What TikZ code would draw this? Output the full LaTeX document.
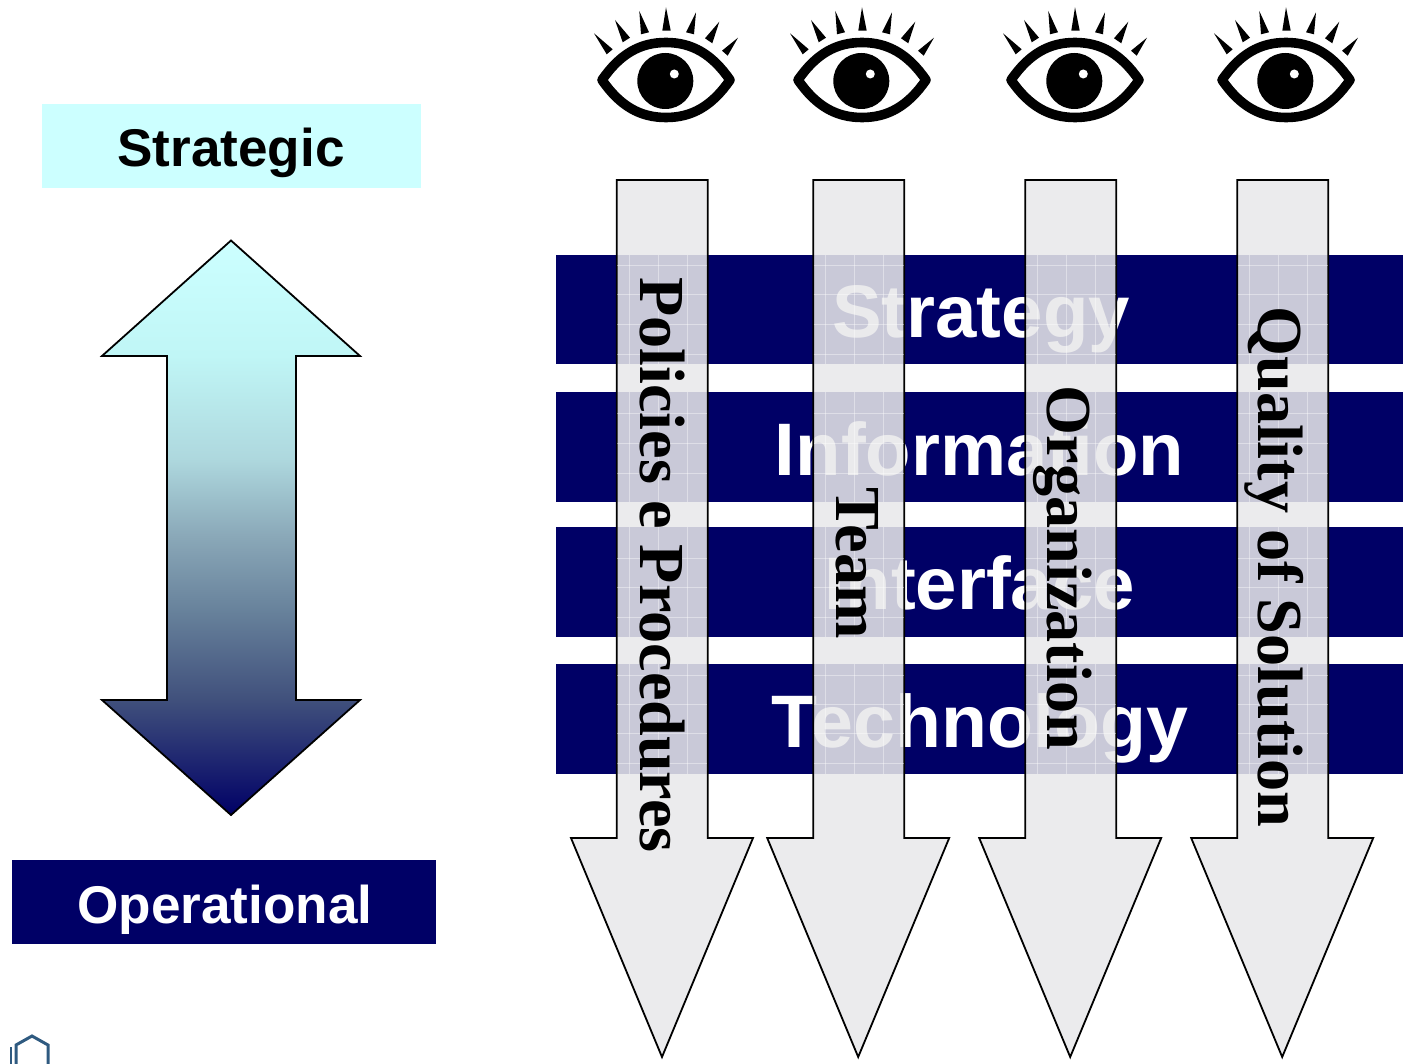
\documentclass[tikz,border=0pt]{standalone}
\usepackage{fontspec}
\setmainfont{Liberation Sans}
\newfontfamily\timesfont{Liberation Serif}
\definecolor{navybar}{HTML}{000066}
\definecolor{paleaqua}{HTML}{CCFFFF}
\definecolor{arrowgrey}{HTML}{E8E8EA}
\definecolor{logoblue}{HTML}{2F5A80}
\definecolor{gradA}{HTML}{40507C}
\definecolor{gradB}{HTML}{66809A}
\definecolor{gradC}{HTML}{8AA8B8}
\definecolor{gradD}{HTML}{AED8DE}
\definecolor{gradE}{HTML}{C0F6F6}
\pgfdeclareverticalshading{strategicramp}{100bp}{
  color(0bp)=(navybar); color(25bp)=(navybar); color(35bp)=(gradA); color(42.5bp)=(gradB);
  color(49.25bp)=(gradC); color(56bp)=(gradD); color(65bp)=(gradE); color(75bp)=(paleaqua); color(100bp)=(paleaqua)}
\tikzset{
  x=0.5pt,y=-0.5pt,
  barbox/.style={fill=navybar,draw=none},
  bartext/.style={text=white,font=\fontsize{37.2}{37.2}\selectfont\bfseries,anchor=base,inner sep=0pt},
  labeltext/.style={font=\fontsize{26.55}{26.55}\selectfont\bfseries,anchor=base,inner sep=0pt},
  columntext/.style={text=black,font=\fontsize{32.1}{32.1}\selectfont\timesfont\bfseries,rotate=-90,anchor=base west,inner sep=0pt},
  downarrow/.style={draw=black,line width=0.9pt,fill=arrowgrey,fill opacity=0.87,line join=miter},
  texture/.style={white,opacity=0.4,line width=0.5pt},
  pics/eyeicon/.style={code={
    \draw[black,fill=white,line width=4.8pt,line join=round]
      (-64,0) .. controls (-46,-26) and (-26,-37.5) .. (0,-37.5) .. controls (26,-37.5) and (46,-26) .. (64,0)
      .. controls (46,26) and (26,37.5) .. (0,37.5) .. controls (-26,37.5) and (-46,26) .. (-64,0) -- cycle;
    \fill[black] (-0.7,1) circle[radius=14pt];
    \fill[white] (8.3,-6) circle[radius=2.25pt];
    \fill[black] (-72,-46.7) -- (-59.3,-25.7) -- (-53.3,-30.7) -- cycle;
    \fill[black] (-51,-60) -- (-43.3,-37.7) -- (-36,-42.3) -- cycle;
    \fill[black] (-26.7,-69) -- (-25,-45.7) -- (-17,-47.7) -- cycle;
    \fill[black] (0,-72.7) -- (-3.7,-49.3) -- (4.7,-49.3) -- cycle;
    \fill[black] (30,-67.7) -- (20,-47.7) -- (28,-45.7) -- cycle;
    \fill[black] (53.3,-58.3) -- (39,-41.7) -- (46.3,-36.7) -- cycle;
    \fill[black] (72,-42.3) -- (56,-29.3) -- (61.7,-24.3) -- cycle;
  }}
}
\begin{document}
\begin{tikzpicture}
\useasboundingbox (0,0) rectangle (1409,1064);
\clip (0,0) rectangle (1409,1064);
% left side
\fill[paleaqua] (42,104) rectangle (421,188);
\node[labeltext] (strategic) at (231,167) {Strategic};
\fill[navybar] (12,860) rectangle (436,944);
\node[labeltext,text=white] (operational) at (225,923) {Operational};
\path[shading=strategicramp,draw=black,line width=0.9pt]
  (231,240.5) -- (360,356) -- (296,356) -- (296,700) -- (360,700) -- (231,815)
  -- (102,700) -- (167,700) -- (167,356) -- (102,356) -- cycle;
% bars
\fill[barbox] (556,255) rectangle (1403,364);
\fill[barbox] (556,392) rectangle (1403,502);
\fill[barbox] (556,527) rectangle (1403,637);
\fill[barbox] (556,664) rectangle (1403,774);
\node[bartext] (strategy) at (981,338) {Strategy};
\node[bartext] (information) at (979.5,475) {Information};
\node[bartext] (interface) at (980,609) {Interface};
\node[bartext,xscale=1.012] (technology) at (979.5,747) {Technology};
% arrows
\foreach \c/\h in {662.2/662,858.7/858.2,1070.7/1070.2,1282.7/1282.2}{
  \draw[downarrow] (\c-45.5,180) -- (\c+45.5,180) -- (\c+45.5,838) -- (\h+91,838)
    -- (\h,1057) -- (\h-91,838) -- (\c-45.5,838) -- cycle;
}
% texture of the arrows where they cross the bars
\foreach \c/\a in {662.2/629,858.7/825,1070.7/1037,1282.7/1249}{
  \foreach \t/\b in {255/364,392/502,527/637,664/774}{
    \foreach \k in {0,29,58}{ \draw[texture] (\a+\k,\t) -- (\a+\k,\b); }
  }
  \foreach \y in {266,295,325,355,413,443,473,558,587,617,675,704,733,763}{
    \draw[texture] (\c-45,\y) -- (\c+45,\y);
  }
}
\node[columntext] (policies) at (640,277) {Policies e Procedures};
\node[columntext] (team) at (836.5,487.5) {Team};
\node[columntext] (organization) at (1047,385.5) {Organization};
\node[columntext] (quality) at (1258,306) {Quality of Solution};
% eyes
\pic at (666,80) {eyeicon};
\pic at (862,80) {eyeicon};
\pic at (1075,80) {eyeicon};
\pic at (1286,80) {eyeicon};
% logo fragment
\draw[logoblue,line width=1.5pt,line join=miter] (16,1070) -- (16,1045) -- (32,1036) -- (48,1045) -- (48,1070);
\draw[logoblue,line width=1.2pt] (11,1047) -- (11,1070);
\end{tikzpicture}
\end{document}
